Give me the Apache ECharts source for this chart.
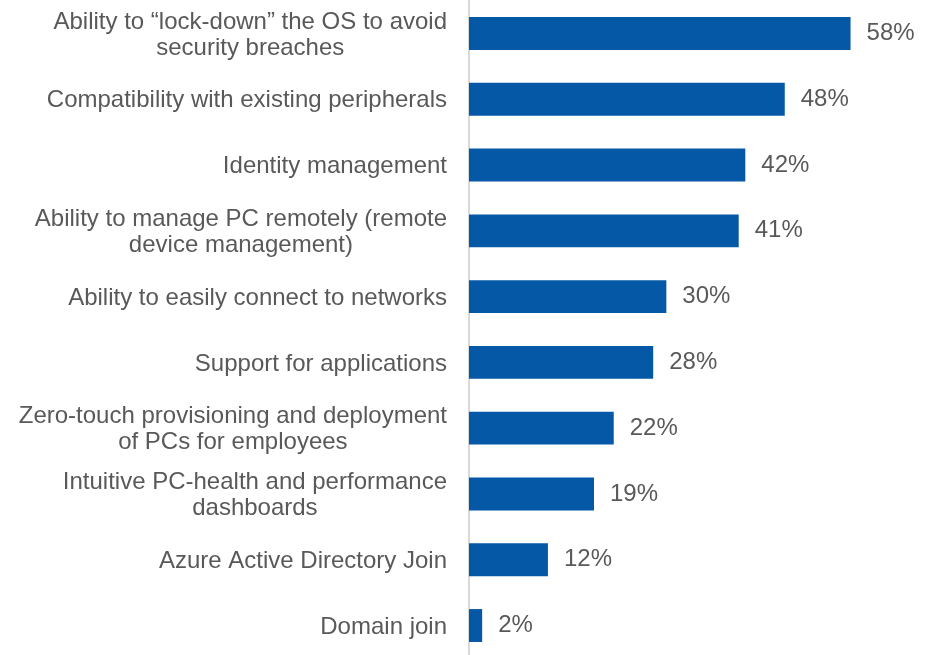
<!DOCTYPE html>
<html>
<head>
<meta charset="utf-8">
<script src="https://cdn.jsdelivr.net/npm/echarts@6/dist/echarts.min.js"></script>
<style>
  html, body { margin: 0; padding: 0; background: #fff; }
  #chart { width: 930px; height: 655px; }
</style>
</head>
<body>
<div id="chart"></div>
<script>
var categories = [
  'Ability to \u201clock-down\u201d the OS to avoid\nsecurity breaches',
  'Compatibility with existing peripherals',
  'Identity management',
  'Ability to manage PC remotely (remote\ndevice management)',
  'Ability to easily connect to networks',
  'Support for applications',
  'Zero-touch provisioning and deployment\nof PCs for employees',
  'Intuitive PC-health and performance\ndashboards',
  'Azure Active Directory Join',
  'Domain join'
];
var values = [58, 48, 42, 41, 30, 28, 22, 19, 12, 2];

var font = 'Liberation Sans, Arial, sans-serif';
var chartDom = document.getElementById('chart');
var myChart = echarts.init(chartDom);
var option = {
  animation: false,
  grid: { left: 469, top: 0.6, width: 394.7, height: 657.8, outerBoundsMode: 'none', containLabel: false },
  xAxis: {
    type: 'value',
    min: 0,
    max: 60,
    show: false
  },
  yAxis: {
    type: 'category',
    data: categories,
    inverse: true,
    axisLine: { show: true, lineStyle: { color: '#d9d9d9', width: 2 } },
    axisTick: { show: false },
    axisLabel: {
      margin: 22,
      color: '#595959',
      fontSize: 24,
      fontFamily: font,
      lineHeight: 26,
      align: 'right',
      padding: [3, 0, 0, 0],
      // multi-line labels are centred line by line, like the original
      formatter: function (v) {
        return v.split('\n').map(function (s) { return '{c|' + s + '}'; }).join('\n');
      },
      rich: {
        c: { align: 'center', fontSize: 24, lineHeight: 26, color: '#595959', fontFamily: font }
      }
    }
  },
  series: [{
    type: 'bar',
    data: values,
    barCategoryGap: '50%',
    itemStyle: { color: '#0558a6' },
    label: {
      show: true,
      position: 'right',
      distance: 16,
      formatter: '{c}%',
      color: '#595959',
      fontSize: 24,
      fontFamily: font,
      padding: [3, 0, 0, 0]
    }
  }]
};
myChart.setOption(option);
</script>
</body>
</html>
